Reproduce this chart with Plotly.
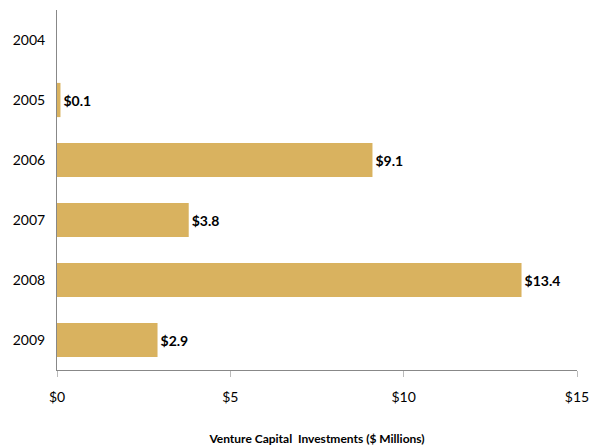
import plotly.graph_objects as go

years = ["2004", "2005", "2006", "2007", "2008", "2009"]
values = [0.0, 0.1, 9.1, 3.8, 13.4, 2.9]
labels = ["", "$0.1", "$9.1", "$3.8", "$13.4", "$2.9"]
x_tickvals = [0, 5, 10, 15]
x_ticktext = ["$0", "$5", "$10", "$15"]

fig = go.Figure(go.Bar(
    y=years, x=values, orientation="h",
    marker=dict(color="#D9B25F", line=dict(width=0)),
    text=labels, textposition="outside", cliponaxis=False,
    textfont=dict(family="Lato", size=14, color="#000000", weight="bold"),
    width=0.57,
))

fig.update_layout(
    width=590, height=447,
    margin=dict(l=57, r=13, t=10, b=77, autoexpand=False),
    paper_bgcolor="white", plot_bgcolor="white",
    showlegend=False,
    font=dict(family="Lato", size=14, color="#000000"),
    xaxis=dict(
        range=[0, 15], tickvals=x_tickvals, ticktext=x_ticktext,
        showgrid=False, zeroline=False, automargin=False,
        showline=True, linecolor="#888888", linewidth=1,
        ticks="outside", ticklen=6, tickcolor="#BBBBBB",
        ticklabelstandoff=8,
        title=dict(text="<b>Venture Capital  Investments ($ Millions)</b>",
                   font=dict(family="Lato", size=12), standoff=30),
    ),
    yaxis=dict(
        autorange="reversed", type="category",
        showgrid=False, zeroline=False, automargin=False,
        showline=True, linecolor="#888888", linewidth=1,
        ticks="", ticklabelstandoff=8,
    ),
)

fig.write_html(
    "out.html",
    config={"displayModeBar": False},
    post_script="document.body.style.margin='0px';document.body.style.overflow='hidden';",
)
